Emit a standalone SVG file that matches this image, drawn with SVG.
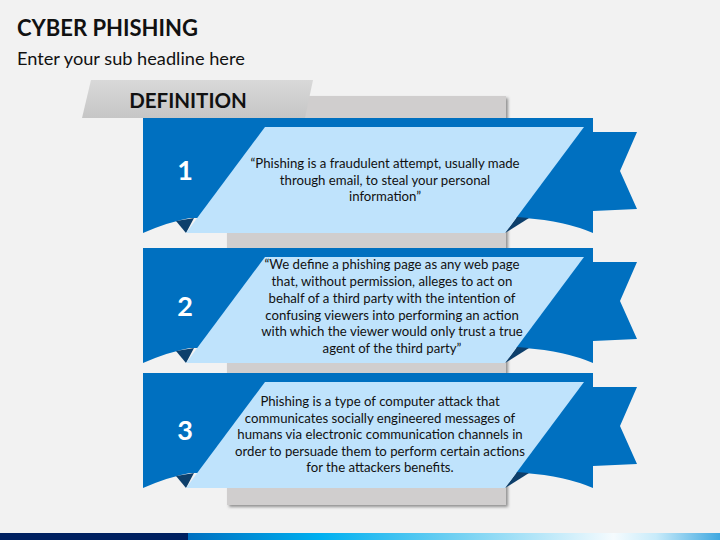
<svg xmlns="http://www.w3.org/2000/svg" width="720" height="540" viewBox="0 0 720 540">
<defs>
<style>
.title{font-family:Lato,"Liberation Sans",sans-serif;font-weight:bold;fill:#111}
.sub{font-family:Lato,"Liberation Sans",sans-serif;fill:#111}
.body{font-family:Lato,"Liberation Sans",sans-serif;font-size:13.2px;fill:#111;text-anchor:middle}
.num{font-family:Lato,"Liberation Sans",sans-serif;font-weight:bold;font-size:27px;fill:#fff;text-anchor:middle}
.blue{fill:#0070c0}
.light{fill:#bfe3fc}
.fold{fill:#0d3f6b}
</style>
<filter id="sh" x="-10%" y="-10%" width="120%" height="120%">
<feDropShadow dx="2" dy="2" stdDeviation="1.5" flood-color="#666" flood-opacity="0.7"/>
</filter>
<linearGradient id="tabg" x1="0" y1="0" x2="0" y2="1">
<stop offset="0" stop-color="#d9d9d9"/>
<stop offset="1" stop-color="#c6c6c6"/>
</linearGradient>
<linearGradient id="bar" x1="188" y1="0" x2="720" y2="0" gradientUnits="userSpaceOnUse">
<stop offset="0" stop-color="#0070c0"/>
<stop offset="0.25" stop-color="#00b0f0"/>
<stop offset="0.5" stop-color="#70d0f2"/>
<stop offset="0.7" stop-color="#c8ecfa"/>
<stop offset="0.8" stop-color="#f5fbfe"/>
<stop offset="0.88" stop-color="#c8ebfa"/>
<stop offset="1" stop-color="#40a8e0"/>
</linearGradient>
<g id="ribbon">
<path class="blue" d="M143,0 H593 V14 H637 L620,53 L637,91 L593,93 V115 Q565,103 525,100 L190,100 Q168,104 143,115 Z"/>
<polygon class="fold" points="176,103 194,100 186,115"/>
<polygon class="fold" points="505,115 517,99 529,100"/>
<polygon class="light" points="265,9 584,9 505,115 186,115"/>
</g>
</defs>
<rect width="720" height="540" fill="#f2f2f2"/>
<text class="title" x="17" y="36" font-size="22">CYBER PHISHING</text>
<text class="sub" x="17" y="65" font-size="18.2">Enter your sub headline here</text>
<g id="panel">
<rect x="227" y="96" width="279" height="409" fill="#d0cece" filter="url(#sh)"/>
</g>
<g id="definition-tab">
<polygon points="91,80 313,80 305,118 82,118" fill="url(#tabg)"/>
<text class="title" x="188" y="108" font-size="20.5" text-anchor="middle">DEFINITION</text>
</g>
<g id="node-1">
<use href="#ribbon" transform="translate(0,118)"/>
<text class="num" x="185" y="180">1</text>
<text class="body"><tspan x="385" y="168">“Phishing is a fraudulent attempt, usually made</tspan><tspan x="385" y="185">through email, to steal your personal</tspan><tspan x="385" y="201">information”</tspan></text>
</g>
<g id="node-2">
<use href="#ribbon" transform="translate(0,248)"/>
<text class="num" x="185" y="316">2</text>
<text class="body"><tspan x="392" y="269">“We define a phishing page as any web page</tspan><tspan x="392" y="286">that, without permission, alleges to act on</tspan><tspan x="392" y="303">behalf of a third party with the intention of</tspan><tspan x="392" y="320">confusing viewers into performing an action</tspan><tspan x="392" y="336">with which the viewer would only trust a true</tspan><tspan x="392" y="353">agent of the third party”</tspan></text>
</g>
<g id="node-3">
<use href="#ribbon" transform="translate(0,373)"/>
<text class="num" x="185" y="440">3</text>
<text class="body"><tspan x="380" y="406">Phishing is a type of computer attack that</tspan><tspan x="380" y="423">communicates socially engineered messages of</tspan><tspan x="380" y="439">humans via electronic communication channels in</tspan><tspan x="380" y="456">order to persuade them to perform certain actions</tspan><tspan x="380" y="472">for the attackers benefits.</tspan></text>
</g>
<g id="connectors"></g>
<rect x="0" y="533" width="188" height="7" fill="#002060"/>
<rect x="188" y="533" width="532" height="7" fill="url(#bar)"/>
</svg>
